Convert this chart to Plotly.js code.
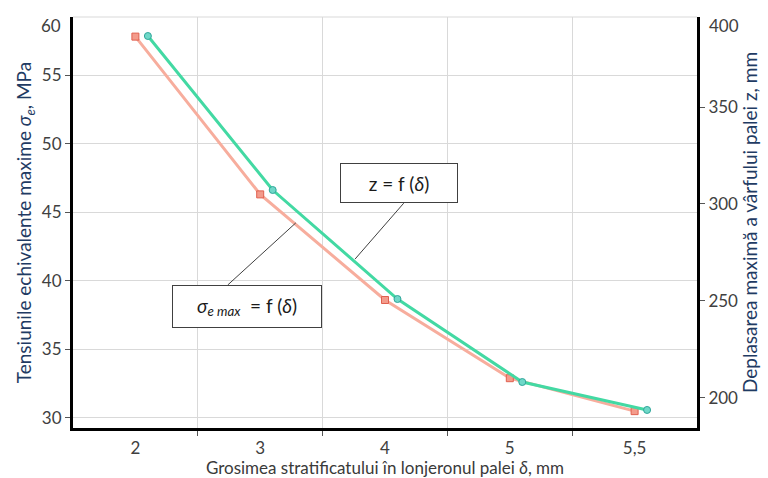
<!DOCTYPE html>
<html>
<head>
<meta charset="utf-8">
<script src="https://cdn.plot.ly/plotly-3.0.1.min.js"></script>
<style>html,body{margin:0;padding:0;background:#fff;}#chart{width:768px;height:478px;}</style>
</head>
<body>
<div id="chart"></div>
<script>
// ---- data ----
const categories = ["2", "3", "4", "5", "5,5"];
const sigmaMax = [57.8, 46.3, 38.6, 32.9, 30.5];      // MPa, left axis
const zDispl = [386.6, 307.2, 251.0, 208.2, 193.8];   // mm, right axis
const leftTickVals = [30, 35, 40, 45, 50, 55];
const leftTickText = ["30", "35", "40", "45", "50", "55", "60"];
const rightTickVals = [200, 250, 300, 350];
const rightTickText = ["200", "250", "300", "350", "400"];

const FONT = "Lato, 'Open Sans', sans-serif";
const idx = categories.map((c, i) => i);
const greenShift = 0.1;

const traces = [
  {
    x: idx, y: sigmaMax, yaxis: "y", type: "scatter", mode: "lines+markers",
    line: {color: "#f7ad9d", width: 3},
    marker: {symbol: "square", size: 7, color: "#f39b8b", line: {color: "#e0604f", width: 1}},
    hoverinfo: "skip", showlegend: false
  },
  {
    x: idx.map(v => v + greenShift), y: zDispl, yaxis: "y2", type: "scatter", mode: "lines+markers",
    line: {color: "#43d9a3", width: 3},
    marker: {symbol: "circle", size: 7, color: "#6fd8c8", line: {color: "#2fa69a", width: 1}},
    hoverinfo: "skip", showlegend: false
  }
];

const layout = {
  width: 768, height: 478,
  margin: {l: 73, r: 71, t: 17, b: 50},
  paper_bgcolor: "#ffffff", plot_bgcolor: "#ffffff",
  font: {family: FONT, size: 17, color: "#404040"},
  xaxis: {
    range: [-0.5, 4.5],
    tickmode: "array", tickvals: idx, ticktext: categories,
    ticks: "", showgrid: false, zeroline: false,
    showline: true, linecolor: "#000", linewidth: 3,
    ticklabelstandoff: 3,
    tickfont: {family: FONT, size: 17, color: "#404040"},
    minor: {tickmode: "array", tickvals: [0.5, 1.5, 2.5, 3.5], ticks: "outside", ticklen: 5, tickwidth: 1, tickcolor: "#555",
            showgrid: true, gridcolor: "#d9d9d9", gridwidth: 1},
    title: {text: "Grosimea stratificatului în lonjeronul palei <i>δ</i>, mm", standoff: 4,
            font: {family: FONT, size: 17, color: "#3a3a3a"}}
  },
  yaxis: {
    range: [29.27, 59.23],
    tickmode: "array", tickvals: leftTickVals, ticktext: leftTickText.slice(0, leftTickVals.length),
    ticks: "outside", ticklen: 5, tickcolor: "#555",
    showgrid: true, gridcolor: "#d9d9d9", gridwidth: 1, zeroline: false,
    showline: true, linecolor: "#000", linewidth: 3,
    tickfont: {family: FONT, size: 17, color: "#404040"},
    title: {text: "Tensiunile echivalente maxime <i>σ</i><sub><i>e</i></sub>, MPa", standoff: 6,
            font: {family: FONT, size: 19, color: "#1f3b63"}}
  },
  yaxis2: {
    overlaying: "y", side: "right",
    range: [184.5, 396.4],
    tickmode: "array", tickvals: rightTickVals, ticktext: rightTickText.slice(0, rightTickVals.length),
    ticks: "outside", ticklen: 5, tickcolor: "#555",
    showgrid: false, zeroline: false,
    showline: true, linecolor: "#000", linewidth: 3,
    tickfont: {family: FONT, size: 17, color: "#404040"},
    title: {text: "Deplasarea maximă a vârfului palei z, mm", standoff: 7,
            font: {family: FONT, size: 19, color: "#1f3b63"}}
  },
  shapes: [
    {type: "line", xref: "paper", yref: "paper", x0: 0, x1: 1, y0: 1, y1: 1, line: {color: "#d9d9d9", width: 1}},
    {type: "line", xref: "paper", yref: "paper", x0: 0.530, y0: 0.547, x1: 0.452, y1: 0.411, line: {color: "#404040", width: 1}},
    {type: "line", xref: "paper", yref: "paper", x0: 0.248, y0: 0.348, x1: 0.357, y1: 0.499, line: {color: "#404040", width: 1}}
  ],
  annotations: [
    {xref: "paper", yref: "paper", x: 0, y: 1, xanchor: "right", yanchor: "middle", xshift: -10, yshift: -8,
     text: leftTickText[leftTickText.length - 1], showarrow: false, font: {family: FONT, size: 17, color: "#404040"}},
    {xref: "paper", yref: "paper", x: 1, y: 1, xanchor: "left", yanchor: "middle", xshift: 10, yshift: -8,
     text: rightTickText[rightTickText.length - 1], showarrow: false, font: {family: FONT, size: 17, color: "#404040"}},
    {xref: "paper", yref: "paper", x: 0.522, y: 0.596, xanchor: "center", yanchor: "middle",
     text: "z = f (<i>δ</i>)", showarrow: false, width: 114, height: 36,
     bgcolor: "#ffffff", bordercolor: "#404040", borderwidth: 1, borderpad: 1,
     font: {family: FONT, size: 19, color: "#1a1a1a"}},
    {xref: "paper", yref: "paper", x: 0.279, y: 0.296, xanchor: "center", yanchor: "middle",
     text: "<i>σ</i><sub><i>e max</i></sub>  = f (<i>δ</i>)", showarrow: false, width: 146, height: 39,
     bgcolor: "#ffffff", bordercolor: "#404040", borderwidth: 1, borderpad: 1,
     font: {family: FONT, size: 19, color: "#1a1a1a"}}
  ]
};

Plotly.newPlot("chart", traces, layout, {displayModeBar: false, staticPlot: true});
</script>
</body>
</html>
